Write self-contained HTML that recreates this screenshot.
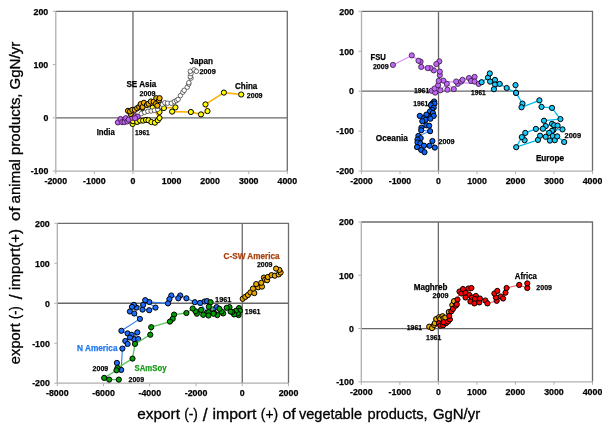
<!DOCTYPE html>
<html><head><meta charset="utf-8"><style>
html,body{margin:0;padding:0;background:#fff;width:602px;height:428px;overflow:hidden}
svg{display:block;will-change:transform}
.t{font-family:"Liberation Sans",sans-serif;font-weight:bold;font-size:9.2px;fill:#000;stroke:#000;stroke-width:0.25}
.l{font-family:"Liberation Sans",sans-serif;font-weight:bold;stroke-width:0.25}
.ti{font-family:"Liberation Sans",sans-serif;font-size:14.5px;fill:#000;stroke:#000;stroke-width:0.3;white-space:pre}
</style></head><body>
<svg width="602" height="428" viewBox="0 0 602 428">
<rect width="602" height="428" fill="#fff"/>
<line x1="55.8" y1="117.83" x2="287.3" y2="117.83" stroke="#686868" stroke-width="1.3"/>
<line x1="132.97" y1="11.3" x2="132.97" y2="171.1" stroke="#686868" stroke-width="1.3"/>
<polyline points="55.8,11.3 287.3,11.3 287.3,171.1" fill="none" stroke="#6c6c6c" stroke-width="1.3"/>
<polyline points="55.8,11.3 55.8,171.1 287.3,171.1" fill="none" stroke="#b0b0b0" stroke-width="1.3"/>
<line x1="52.8" y1="171.1" x2="55.8" y2="171.1" stroke="#b0b0b0" stroke-width="1"/>
<text x="48.3" y="174.39" text-anchor="end" class="t" textLength="17.67" lengthAdjust="spacingAndGlyphs">-100</text>
<line x1="52.8" y1="117.83" x2="55.8" y2="117.83" stroke="#b0b0b0" stroke-width="1"/>
<text x="48.3" y="121.13" text-anchor="end" class="t" textLength="4.91" lengthAdjust="spacingAndGlyphs">0</text>
<line x1="52.8" y1="64.57" x2="55.8" y2="64.57" stroke="#b0b0b0" stroke-width="1"/>
<text x="48.3" y="67.86" text-anchor="end" class="t" textLength="14.73" lengthAdjust="spacingAndGlyphs">100</text>
<line x1="52.8" y1="11.3" x2="55.8" y2="11.3" stroke="#b0b0b0" stroke-width="1"/>
<text x="48.3" y="14.59" text-anchor="end" class="t" textLength="14.73" lengthAdjust="spacingAndGlyphs">200</text>
<line x1="55.8" y1="171.1" x2="55.8" y2="174.1" stroke="#b0b0b0" stroke-width="1"/>
<text x="55.8" y="184.39" text-anchor="middle" class="t" textLength="22.58" lengthAdjust="spacingAndGlyphs">-2000</text>
<line x1="94.38" y1="171.1" x2="94.38" y2="174.1" stroke="#b0b0b0" stroke-width="1"/>
<text x="94.38" y="184.39" text-anchor="middle" class="t" textLength="22.58" lengthAdjust="spacingAndGlyphs">-1000</text>
<line x1="132.97" y1="171.1" x2="132.97" y2="174.1" stroke="#b0b0b0" stroke-width="1"/>
<text x="132.97" y="184.39" text-anchor="middle" class="t" textLength="4.91" lengthAdjust="spacingAndGlyphs">0</text>
<line x1="171.55" y1="171.1" x2="171.55" y2="174.1" stroke="#b0b0b0" stroke-width="1"/>
<text x="171.55" y="184.39" text-anchor="middle" class="t" textLength="19.64" lengthAdjust="spacingAndGlyphs">1000</text>
<line x1="210.13" y1="171.1" x2="210.13" y2="174.1" stroke="#b0b0b0" stroke-width="1"/>
<text x="210.13" y="184.39" text-anchor="middle" class="t" textLength="19.64" lengthAdjust="spacingAndGlyphs">2000</text>
<line x1="248.72" y1="171.1" x2="248.72" y2="174.1" stroke="#b0b0b0" stroke-width="1"/>
<text x="248.72" y="184.39" text-anchor="middle" class="t" textLength="19.64" lengthAdjust="spacingAndGlyphs">3000</text>
<line x1="287.3" y1="171.1" x2="287.3" y2="174.1" stroke="#b0b0b0" stroke-width="1"/>
<text x="287.3" y="184.39" text-anchor="middle" class="t" textLength="19.64" lengthAdjust="spacingAndGlyphs">4000</text>
<line x1="361.5" y1="91.2" x2="592.5" y2="91.2" stroke="#686868" stroke-width="1.3"/>
<line x1="438.5" y1="11.3" x2="438.5" y2="171.1" stroke="#686868" stroke-width="1.3"/>
<polyline points="361.5,11.3 592.5,11.3 592.5,171.1" fill="none" stroke="#6c6c6c" stroke-width="1.3"/>
<polyline points="361.5,11.3 361.5,171.1 592.5,171.1" fill="none" stroke="#b0b0b0" stroke-width="1.3"/>
<line x1="358.5" y1="171.1" x2="361.5" y2="171.1" stroke="#b0b0b0" stroke-width="1"/>
<text x="354" y="174.39" text-anchor="end" class="t" textLength="17.67" lengthAdjust="spacingAndGlyphs">-200</text>
<line x1="358.5" y1="131.15" x2="361.5" y2="131.15" stroke="#b0b0b0" stroke-width="1"/>
<text x="354" y="134.44" text-anchor="end" class="t" textLength="17.67" lengthAdjust="spacingAndGlyphs">-100</text>
<line x1="358.5" y1="91.2" x2="361.5" y2="91.2" stroke="#b0b0b0" stroke-width="1"/>
<text x="354" y="94.49" text-anchor="end" class="t" textLength="4.91" lengthAdjust="spacingAndGlyphs">0</text>
<line x1="358.5" y1="51.25" x2="361.5" y2="51.25" stroke="#b0b0b0" stroke-width="1"/>
<text x="354" y="54.54" text-anchor="end" class="t" textLength="14.73" lengthAdjust="spacingAndGlyphs">100</text>
<line x1="358.5" y1="11.3" x2="361.5" y2="11.3" stroke="#b0b0b0" stroke-width="1"/>
<text x="354" y="14.59" text-anchor="end" class="t" textLength="14.73" lengthAdjust="spacingAndGlyphs">200</text>
<line x1="361.5" y1="171.1" x2="361.5" y2="174.1" stroke="#b0b0b0" stroke-width="1"/>
<text x="361.5" y="184.39" text-anchor="middle" class="t" textLength="22.58" lengthAdjust="spacingAndGlyphs">-2000</text>
<line x1="400" y1="171.1" x2="400" y2="174.1" stroke="#b0b0b0" stroke-width="1"/>
<text x="400" y="184.39" text-anchor="middle" class="t" textLength="22.58" lengthAdjust="spacingAndGlyphs">-1000</text>
<line x1="438.5" y1="171.1" x2="438.5" y2="174.1" stroke="#b0b0b0" stroke-width="1"/>
<text x="438.5" y="184.39" text-anchor="middle" class="t" textLength="4.91" lengthAdjust="spacingAndGlyphs">0</text>
<line x1="477" y1="171.1" x2="477" y2="174.1" stroke="#b0b0b0" stroke-width="1"/>
<text x="477" y="184.39" text-anchor="middle" class="t" textLength="19.64" lengthAdjust="spacingAndGlyphs">1000</text>
<line x1="515.5" y1="171.1" x2="515.5" y2="174.1" stroke="#b0b0b0" stroke-width="1"/>
<text x="515.5" y="184.39" text-anchor="middle" class="t" textLength="19.64" lengthAdjust="spacingAndGlyphs">2000</text>
<line x1="554" y1="171.1" x2="554" y2="174.1" stroke="#b0b0b0" stroke-width="1"/>
<text x="554" y="184.39" text-anchor="middle" class="t" textLength="19.64" lengthAdjust="spacingAndGlyphs">3000</text>
<line x1="592.5" y1="171.1" x2="592.5" y2="174.1" stroke="#b0b0b0" stroke-width="1"/>
<text x="592.5" y="184.39" text-anchor="middle" class="t" textLength="19.64" lengthAdjust="spacingAndGlyphs">4000</text>
<line x1="57.3" y1="303.25" x2="288.5" y2="303.25" stroke="#686868" stroke-width="1.3"/>
<line x1="242.26" y1="223.3" x2="242.26" y2="383.2" stroke="#686868" stroke-width="1.3"/>
<polyline points="57.3,223.3 288.5,223.3 288.5,383.2" fill="none" stroke="#6c6c6c" stroke-width="1.3"/>
<polyline points="57.3,223.3 57.3,383.2 288.5,383.2" fill="none" stroke="#b0b0b0" stroke-width="1.3"/>
<line x1="54.3" y1="383.2" x2="57.3" y2="383.2" stroke="#b0b0b0" stroke-width="1"/>
<text x="49.8" y="386.49" text-anchor="end" class="t" textLength="17.67" lengthAdjust="spacingAndGlyphs">-200</text>
<line x1="54.3" y1="343.23" x2="57.3" y2="343.23" stroke="#b0b0b0" stroke-width="1"/>
<text x="49.8" y="346.52" text-anchor="end" class="t" textLength="17.67" lengthAdjust="spacingAndGlyphs">-100</text>
<line x1="54.3" y1="303.25" x2="57.3" y2="303.25" stroke="#b0b0b0" stroke-width="1"/>
<text x="49.8" y="306.54" text-anchor="end" class="t" textLength="4.91" lengthAdjust="spacingAndGlyphs">0</text>
<line x1="54.3" y1="263.27" x2="57.3" y2="263.27" stroke="#b0b0b0" stroke-width="1"/>
<text x="49.8" y="266.57" text-anchor="end" class="t" textLength="14.73" lengthAdjust="spacingAndGlyphs">100</text>
<line x1="54.3" y1="223.3" x2="57.3" y2="223.3" stroke="#b0b0b0" stroke-width="1"/>
<text x="49.8" y="226.59" text-anchor="end" class="t" textLength="14.73" lengthAdjust="spacingAndGlyphs">200</text>
<line x1="57.3" y1="383.2" x2="57.3" y2="386.2" stroke="#b0b0b0" stroke-width="1"/>
<text x="57.3" y="396.49" text-anchor="middle" class="t" textLength="22.58" lengthAdjust="spacingAndGlyphs">-8000</text>
<line x1="103.54" y1="383.2" x2="103.54" y2="386.2" stroke="#b0b0b0" stroke-width="1"/>
<text x="103.54" y="396.49" text-anchor="middle" class="t" textLength="22.58" lengthAdjust="spacingAndGlyphs">-6000</text>
<line x1="149.78" y1="383.2" x2="149.78" y2="386.2" stroke="#b0b0b0" stroke-width="1"/>
<text x="149.78" y="396.49" text-anchor="middle" class="t" textLength="22.58" lengthAdjust="spacingAndGlyphs">-4000</text>
<line x1="196.02" y1="383.2" x2="196.02" y2="386.2" stroke="#b0b0b0" stroke-width="1"/>
<text x="196.02" y="396.49" text-anchor="middle" class="t" textLength="22.58" lengthAdjust="spacingAndGlyphs">-2000</text>
<line x1="242.26" y1="383.2" x2="242.26" y2="386.2" stroke="#b0b0b0" stroke-width="1"/>
<text x="242.26" y="396.49" text-anchor="middle" class="t" textLength="4.91" lengthAdjust="spacingAndGlyphs">0</text>
<line x1="288.5" y1="383.2" x2="288.5" y2="386.2" stroke="#b0b0b0" stroke-width="1"/>
<text x="288.5" y="396.49" text-anchor="middle" class="t" textLength="19.64" lengthAdjust="spacingAndGlyphs">2000</text>
<line x1="361.3" y1="328.53" x2="592.5" y2="328.53" stroke="#686868" stroke-width="1.3"/>
<line x1="438.37" y1="222" x2="438.37" y2="381.8" stroke="#686868" stroke-width="1.3"/>
<polyline points="361.3,222 592.5,222 592.5,381.8" fill="none" stroke="#6c6c6c" stroke-width="1.3"/>
<polyline points="361.3,222 361.3,381.8 592.5,381.8" fill="none" stroke="#b0b0b0" stroke-width="1.3"/>
<line x1="358.3" y1="381.8" x2="361.3" y2="381.8" stroke="#b0b0b0" stroke-width="1"/>
<text x="353.8" y="385.09" text-anchor="end" class="t" textLength="17.67" lengthAdjust="spacingAndGlyphs">-100</text>
<line x1="358.3" y1="328.53" x2="361.3" y2="328.53" stroke="#b0b0b0" stroke-width="1"/>
<text x="353.8" y="331.83" text-anchor="end" class="t" textLength="4.91" lengthAdjust="spacingAndGlyphs">0</text>
<line x1="358.3" y1="275.27" x2="361.3" y2="275.27" stroke="#b0b0b0" stroke-width="1"/>
<text x="353.8" y="278.56" text-anchor="end" class="t" textLength="14.73" lengthAdjust="spacingAndGlyphs">100</text>
<line x1="358.3" y1="222" x2="361.3" y2="222" stroke="#b0b0b0" stroke-width="1"/>
<text x="353.8" y="225.29" text-anchor="end" class="t" textLength="14.73" lengthAdjust="spacingAndGlyphs">200</text>
<line x1="361.3" y1="381.8" x2="361.3" y2="384.8" stroke="#b0b0b0" stroke-width="1"/>
<text x="361.3" y="395.09" text-anchor="middle" class="t" textLength="22.58" lengthAdjust="spacingAndGlyphs">-2000</text>
<line x1="399.83" y1="381.8" x2="399.83" y2="384.8" stroke="#b0b0b0" stroke-width="1"/>
<text x="399.83" y="395.09" text-anchor="middle" class="t" textLength="22.58" lengthAdjust="spacingAndGlyphs">-1000</text>
<line x1="438.37" y1="381.8" x2="438.37" y2="384.8" stroke="#b0b0b0" stroke-width="1"/>
<text x="438.37" y="395.09" text-anchor="middle" class="t" textLength="4.91" lengthAdjust="spacingAndGlyphs">0</text>
<line x1="476.9" y1="381.8" x2="476.9" y2="384.8" stroke="#b0b0b0" stroke-width="1"/>
<text x="476.9" y="395.09" text-anchor="middle" class="t" textLength="19.64" lengthAdjust="spacingAndGlyphs">1000</text>
<line x1="515.43" y1="381.8" x2="515.43" y2="384.8" stroke="#b0b0b0" stroke-width="1"/>
<text x="515.43" y="395.09" text-anchor="middle" class="t" textLength="19.64" lengthAdjust="spacingAndGlyphs">2000</text>
<line x1="553.97" y1="381.8" x2="553.97" y2="384.8" stroke="#b0b0b0" stroke-width="1"/>
<text x="553.97" y="395.09" text-anchor="middle" class="t" textLength="19.64" lengthAdjust="spacingAndGlyphs">3000</text>
<line x1="592.5" y1="381.8" x2="592.5" y2="384.8" stroke="#b0b0b0" stroke-width="1"/>
<text x="592.5" y="395.09" text-anchor="middle" class="t" textLength="19.64" lengthAdjust="spacingAndGlyphs">4000</text>
<polyline points="132.6,123.9 133,121.2 137.2,121.9 140.1,120.6 143.1,120.6 146,120 148.5,120.3 151.4,122.1 154.9,122.7 157.8,120.3 159.5,118 152.7,107.7 159.5,112 163.9,108 175.4,107.4 172.1,111.6 190.9,112 201,114.4 207.5,111.1 205.5,104.4 223.9,92.6 241.2,94.5" fill="none" stroke="#ffb000" stroke-width="1.6" stroke-linejoin="round"/>
<circle cx="132.6" cy="123.9" r="2.6" fill="#ffff00" stroke="#000" stroke-width="1.0"/>
<circle cx="133" cy="121.2" r="2.6" fill="#ffff00" stroke="#000" stroke-width="1.0"/>
<circle cx="137.2" cy="121.9" r="2.6" fill="#ffff00" stroke="#000" stroke-width="1.0"/>
<circle cx="140.1" cy="120.6" r="2.6" fill="#ffff00" stroke="#000" stroke-width="1.0"/>
<circle cx="143.1" cy="120.6" r="2.6" fill="#ffff00" stroke="#000" stroke-width="1.0"/>
<circle cx="146" cy="120" r="2.6" fill="#ffff00" stroke="#000" stroke-width="1.0"/>
<circle cx="148.5" cy="120.3" r="2.6" fill="#ffff00" stroke="#000" stroke-width="1.0"/>
<circle cx="151.4" cy="122.1" r="2.6" fill="#ffff00" stroke="#000" stroke-width="1.0"/>
<circle cx="154.9" cy="122.7" r="2.6" fill="#ffff00" stroke="#000" stroke-width="1.0"/>
<circle cx="157.8" cy="120.3" r="2.6" fill="#ffff00" stroke="#000" stroke-width="1.0"/>
<circle cx="159.5" cy="118" r="2.6" fill="#ffff00" stroke="#000" stroke-width="1.0"/>
<circle cx="152.7" cy="107.7" r="2.6" fill="#ffff00" stroke="#000" stroke-width="1.0"/>
<circle cx="159.5" cy="112" r="2.6" fill="#ffff00" stroke="#000" stroke-width="1.0"/>
<circle cx="163.9" cy="108" r="2.6" fill="#ffff00" stroke="#000" stroke-width="1.0"/>
<circle cx="175.4" cy="107.4" r="2.6" fill="#ffff00" stroke="#000" stroke-width="1.0"/>
<circle cx="172.1" cy="111.6" r="2.6" fill="#ffff00" stroke="#000" stroke-width="1.0"/>
<circle cx="190.9" cy="112" r="2.6" fill="#ffff00" stroke="#000" stroke-width="1.0"/>
<circle cx="201" cy="114.4" r="2.6" fill="#ffff00" stroke="#000" stroke-width="1.0"/>
<circle cx="207.5" cy="111.1" r="2.6" fill="#ffff00" stroke="#000" stroke-width="1.0"/>
<circle cx="205.5" cy="104.4" r="2.6" fill="#ffff00" stroke="#000" stroke-width="1.0"/>
<circle cx="223.9" cy="92.6" r="2.6" fill="#ffff00" stroke="#000" stroke-width="1.0"/>
<circle cx="241.2" cy="94.5" r="2.6" fill="#ffff00" stroke="#000" stroke-width="1.0"/>
<circle cx="117.9" cy="122.4" r="2.6" fill="#c062f0" stroke="#3a1a4a" stroke-width="0.9"/>
<circle cx="120.5" cy="119" r="2.6" fill="#c062f0" stroke="#3a1a4a" stroke-width="0.9"/>
<circle cx="122.2" cy="122.1" r="2.6" fill="#c062f0" stroke="#3a1a4a" stroke-width="0.9"/>
<circle cx="124.5" cy="122.1" r="2.6" fill="#c062f0" stroke="#3a1a4a" stroke-width="0.9"/>
<circle cx="125.8" cy="118.2" r="2.6" fill="#c062f0" stroke="#3a1a4a" stroke-width="0.9"/>
<circle cx="127.4" cy="121.4" r="2.6" fill="#c062f0" stroke="#3a1a4a" stroke-width="0.9"/>
<circle cx="128.7" cy="119.6" r="2.6" fill="#c062f0" stroke="#3a1a4a" stroke-width="0.9"/>
<circle cx="132.3" cy="117.8" r="2.6" fill="#c062f0" stroke="#3a1a4a" stroke-width="0.9"/>
<circle cx="134.9" cy="116.2" r="2.6" fill="#c062f0" stroke="#3a1a4a" stroke-width="0.9"/>
<circle cx="137.5" cy="116.6" r="2.6" fill="#c062f0" stroke="#3a1a4a" stroke-width="0.9"/>
<circle cx="135.1" cy="118.2" r="2.6" fill="#c062f0" stroke="#3a1a4a" stroke-width="0.9"/>
<circle cx="141.3" cy="113.6" r="2.25" fill="#ffffff" stroke="#3a3a3a" stroke-width="0.75"/>
<circle cx="144.6" cy="112.3" r="2.25" fill="#ffffff" stroke="#3a3a3a" stroke-width="0.75"/>
<circle cx="147.8" cy="111.3" r="2.25" fill="#ffffff" stroke="#3a3a3a" stroke-width="0.75"/>
<circle cx="151.1" cy="111" r="2.25" fill="#ffffff" stroke="#3a3a3a" stroke-width="0.75"/>
<circle cx="154.4" cy="110.3" r="2.25" fill="#ffffff" stroke="#3a3a3a" stroke-width="0.75"/>
<circle cx="157.6" cy="109.3" r="2.25" fill="#ffffff" stroke="#3a3a3a" stroke-width="0.75"/>
<circle cx="160.3" cy="106" r="2.25" fill="#ffffff" stroke="#3a3a3a" stroke-width="0.75"/>
<circle cx="162.5" cy="104.4" r="2.25" fill="#ffffff" stroke="#3a3a3a" stroke-width="0.75"/>
<circle cx="164.8" cy="102.8" r="2.25" fill="#ffffff" stroke="#3a3a3a" stroke-width="0.75"/>
<circle cx="167.5" cy="103.2" r="2.25" fill="#ffffff" stroke="#3a3a3a" stroke-width="0.75"/>
<circle cx="171.3" cy="103.2" r="2.25" fill="#ffffff" stroke="#3a3a3a" stroke-width="0.75"/>
<circle cx="174.3" cy="101.7" r="2.25" fill="#ffffff" stroke="#3a3a3a" stroke-width="0.75"/>
<circle cx="176.5" cy="100.5" r="2.25" fill="#ffffff" stroke="#3a3a3a" stroke-width="0.75"/>
<circle cx="178.1" cy="99.4" r="2.25" fill="#ffffff" stroke="#3a3a3a" stroke-width="0.75"/>
<circle cx="180.4" cy="95.6" r="2.25" fill="#ffffff" stroke="#3a3a3a" stroke-width="0.75"/>
<circle cx="182.8" cy="92.2" r="2.25" fill="#ffffff" stroke="#3a3a3a" stroke-width="0.75"/>
<circle cx="184.2" cy="90.3" r="2.25" fill="#ffffff" stroke="#3a3a3a" stroke-width="0.75"/>
<circle cx="187.2" cy="87.2" r="2.25" fill="#ffffff" stroke="#3a3a3a" stroke-width="0.75"/>
<circle cx="188.8" cy="84" r="2.25" fill="#ffffff" stroke="#3a3a3a" stroke-width="0.75"/>
<circle cx="188.8" cy="82.7" r="2.25" fill="#ffffff" stroke="#3a3a3a" stroke-width="0.75"/>
<circle cx="191" cy="78.1" r="2.25" fill="#ffffff" stroke="#3a3a3a" stroke-width="0.75"/>
<circle cx="190.3" cy="76.6" r="2.25" fill="#ffffff" stroke="#3a3a3a" stroke-width="0.75"/>
<circle cx="191" cy="73.6" r="2.25" fill="#ffffff" stroke="#3a3a3a" stroke-width="0.75"/>
<circle cx="190.3" cy="71.3" r="2.25" fill="#ffffff" stroke="#3a3a3a" stroke-width="0.75"/>
<circle cx="194.1" cy="69.8" r="2.25" fill="#ffffff" stroke="#3a3a3a" stroke-width="0.75"/>
<circle cx="196.4" cy="71.3" r="2.25" fill="#ffffff" stroke="#3a3a3a" stroke-width="0.75"/>
<circle cx="130.7" cy="114" r="2.6" fill="#f0b000" stroke="#000" stroke-width="1.0"/>
<circle cx="128" cy="110.8" r="2.6" fill="#f0b000" stroke="#000" stroke-width="1.0"/>
<circle cx="130" cy="111.4" r="2.6" fill="#f0b000" stroke="#000" stroke-width="1.0"/>
<circle cx="132.3" cy="109.8" r="2.6" fill="#f0b000" stroke="#000" stroke-width="1.0"/>
<circle cx="134.9" cy="109.8" r="2.6" fill="#f0b000" stroke="#000" stroke-width="1.0"/>
<circle cx="137.2" cy="108.2" r="2.6" fill="#f0b000" stroke="#000" stroke-width="1.0"/>
<circle cx="139.2" cy="106.9" r="2.6" fill="#f0b000" stroke="#000" stroke-width="1.0"/>
<circle cx="140.7" cy="104.1" r="2.6" fill="#f0b000" stroke="#000" stroke-width="1.0"/>
<circle cx="142.1" cy="107.8" r="2.6" fill="#f0b000" stroke="#000" stroke-width="1.0"/>
<circle cx="142.6" cy="107" r="2.6" fill="#f0b000" stroke="#000" stroke-width="1.0"/>
<circle cx="143.9" cy="102.8" r="2.6" fill="#f0b000" stroke="#000" stroke-width="1.0"/>
<circle cx="146.9" cy="105" r="2.6" fill="#f0b000" stroke="#000" stroke-width="1.0"/>
<circle cx="148.5" cy="103.8" r="2.6" fill="#f0b000" stroke="#000" stroke-width="1.0"/>
<circle cx="150.8" cy="101.5" r="2.6" fill="#f0b000" stroke="#000" stroke-width="1.0"/>
<circle cx="153.7" cy="101.8" r="2.6" fill="#f0b000" stroke="#000" stroke-width="1.0"/>
<circle cx="155.7" cy="104.1" r="2.6" fill="#f0b000" stroke="#000" stroke-width="1.0"/>
<circle cx="157.3" cy="105.7" r="2.6" fill="#f0b000" stroke="#000" stroke-width="1.0"/>
<circle cx="156.3" cy="98.2" r="2.6" fill="#f0b000" stroke="#000" stroke-width="1.0"/>
<circle cx="159" cy="100.2" r="2.6" fill="#f0b000" stroke="#000" stroke-width="1.0"/>
<circle cx="159.6" cy="98.2" r="2.6" fill="#f0b000" stroke="#000" stroke-width="1.0"/>
<polyline points="431.7,90.8 435.2,92.6 434.6,88.5 438.1,85.2 440.4,90.3 446.8,83.8 447.4,89.7 443.3,80.6 453.8,89.1 457.9,83.8 456.2,81.5 461.2,81.6 462.6,79.8 469,78 471.1,81 474.6,76.9 474.6,81.6 478.7,83.9 438.7,80.9 439.8,75.1 439.8,71.6 439.3,61.4 436.3,64 433.8,70.4 430.5,68.1 427.6,68.1 421.2,66.9 420.6,61.7 418.5,60.7 411.8,55.4 392.9,64.9" fill="none" stroke="#d98cff" stroke-width="1.1" stroke-linejoin="round"/>
<circle cx="431.7" cy="90.8" r="2.6" fill="#c466f5" stroke="#2a1a3a" stroke-width="0.8"/>
<circle cx="435.2" cy="92.6" r="2.6" fill="#c466f5" stroke="#2a1a3a" stroke-width="0.8"/>
<circle cx="434.6" cy="88.5" r="2.6" fill="#c466f5" stroke="#2a1a3a" stroke-width="0.8"/>
<circle cx="438.1" cy="85.2" r="2.6" fill="#c466f5" stroke="#2a1a3a" stroke-width="0.8"/>
<circle cx="440.4" cy="90.3" r="2.6" fill="#c466f5" stroke="#2a1a3a" stroke-width="0.8"/>
<circle cx="446.8" cy="83.8" r="2.6" fill="#c466f5" stroke="#2a1a3a" stroke-width="0.8"/>
<circle cx="447.4" cy="89.7" r="2.6" fill="#c466f5" stroke="#2a1a3a" stroke-width="0.8"/>
<circle cx="443.3" cy="80.6" r="2.6" fill="#c466f5" stroke="#2a1a3a" stroke-width="0.8"/>
<circle cx="453.8" cy="89.1" r="2.6" fill="#c466f5" stroke="#2a1a3a" stroke-width="0.8"/>
<circle cx="457.9" cy="83.8" r="2.6" fill="#c466f5" stroke="#2a1a3a" stroke-width="0.8"/>
<circle cx="456.2" cy="81.5" r="2.6" fill="#c466f5" stroke="#2a1a3a" stroke-width="0.8"/>
<circle cx="461.2" cy="81.6" r="2.6" fill="#c466f5" stroke="#2a1a3a" stroke-width="0.8"/>
<circle cx="462.6" cy="79.8" r="2.6" fill="#c466f5" stroke="#2a1a3a" stroke-width="0.8"/>
<circle cx="469" cy="78" r="2.6" fill="#c466f5" stroke="#2a1a3a" stroke-width="0.8"/>
<circle cx="471.1" cy="81" r="2.6" fill="#c466f5" stroke="#2a1a3a" stroke-width="0.8"/>
<circle cx="474.6" cy="76.9" r="2.6" fill="#c466f5" stroke="#2a1a3a" stroke-width="0.8"/>
<circle cx="474.6" cy="81.6" r="2.6" fill="#c466f5" stroke="#2a1a3a" stroke-width="0.8"/>
<circle cx="478.7" cy="83.9" r="2.6" fill="#c466f5" stroke="#2a1a3a" stroke-width="0.8"/>
<circle cx="438.7" cy="80.9" r="2.6" fill="#c466f5" stroke="#2a1a3a" stroke-width="0.8"/>
<circle cx="439.8" cy="75.1" r="2.6" fill="#c466f5" stroke="#2a1a3a" stroke-width="0.8"/>
<circle cx="439.8" cy="71.6" r="2.6" fill="#c466f5" stroke="#2a1a3a" stroke-width="0.8"/>
<circle cx="439.3" cy="61.4" r="2.6" fill="#c466f5" stroke="#2a1a3a" stroke-width="0.8"/>
<circle cx="436.3" cy="64" r="2.6" fill="#c466f5" stroke="#2a1a3a" stroke-width="0.8"/>
<circle cx="433.8" cy="70.4" r="2.6" fill="#c466f5" stroke="#2a1a3a" stroke-width="0.8"/>
<circle cx="430.5" cy="68.1" r="2.6" fill="#c466f5" stroke="#2a1a3a" stroke-width="0.8"/>
<circle cx="427.6" cy="68.1" r="2.6" fill="#c466f5" stroke="#2a1a3a" stroke-width="0.8"/>
<circle cx="421.2" cy="66.9" r="2.6" fill="#c466f5" stroke="#2a1a3a" stroke-width="0.8"/>
<circle cx="420.6" cy="61.7" r="2.6" fill="#c466f5" stroke="#2a1a3a" stroke-width="0.8"/>
<circle cx="418.5" cy="60.7" r="2.6" fill="#c466f5" stroke="#2a1a3a" stroke-width="0.8"/>
<circle cx="411.8" cy="55.4" r="2.6" fill="#c466f5" stroke="#2a1a3a" stroke-width="0.8"/>
<circle cx="392.9" cy="64.9" r="2.6" fill="#c466f5" stroke="#2a1a3a" stroke-width="0.8"/>
<polyline points="434.1,101.5 432.1,103.6 434.5,103.6 430.9,105.2 433.7,107.7 432.1,109.7 430,111.4 432.9,113 433.7,115.9 428.8,116.7 426.4,114.6 419.8,115.9 423.9,118.3 425.5,119.9 430.4,118.7 422.3,121.2 426.4,125.3 429.2,125.7 421.4,127.7 421.2,130.3 430.1,131.2 418.4,135.9 420.7,138.2 417.5,139.6 417.5,142.4 420.3,143.4 417,147.1 421.2,149.9 424.5,152.2 424,145.7 429.6,145.7 434.8,147.6 432.4,141" fill="none" stroke="#2a78ee" stroke-width="1.0" stroke-linejoin="round"/>
<circle cx="434.1" cy="101.5" r="2.6" fill="#0a64fa" stroke="#000" stroke-width="1.0"/>
<circle cx="432.1" cy="103.6" r="2.6" fill="#0a64fa" stroke="#000" stroke-width="1.0"/>
<circle cx="434.5" cy="103.6" r="2.6" fill="#0a64fa" stroke="#000" stroke-width="1.0"/>
<circle cx="430.9" cy="105.2" r="2.6" fill="#0a64fa" stroke="#000" stroke-width="1.0"/>
<circle cx="433.7" cy="107.7" r="2.6" fill="#0a64fa" stroke="#000" stroke-width="1.0"/>
<circle cx="432.1" cy="109.7" r="2.6" fill="#0a64fa" stroke="#000" stroke-width="1.0"/>
<circle cx="430" cy="111.4" r="2.6" fill="#0a64fa" stroke="#000" stroke-width="1.0"/>
<circle cx="432.9" cy="113" r="2.6" fill="#0a64fa" stroke="#000" stroke-width="1.0"/>
<circle cx="433.7" cy="115.9" r="2.6" fill="#0a64fa" stroke="#000" stroke-width="1.0"/>
<circle cx="428.8" cy="116.7" r="2.6" fill="#0a64fa" stroke="#000" stroke-width="1.0"/>
<circle cx="426.4" cy="114.6" r="2.6" fill="#0a64fa" stroke="#000" stroke-width="1.0"/>
<circle cx="419.8" cy="115.9" r="2.6" fill="#0a64fa" stroke="#000" stroke-width="1.0"/>
<circle cx="423.9" cy="118.3" r="2.6" fill="#0a64fa" stroke="#000" stroke-width="1.0"/>
<circle cx="425.5" cy="119.9" r="2.6" fill="#0a64fa" stroke="#000" stroke-width="1.0"/>
<circle cx="430.4" cy="118.7" r="2.6" fill="#0a64fa" stroke="#000" stroke-width="1.0"/>
<circle cx="422.3" cy="121.2" r="2.6" fill="#0a64fa" stroke="#000" stroke-width="1.0"/>
<circle cx="426.4" cy="125.3" r="2.6" fill="#0a64fa" stroke="#000" stroke-width="1.0"/>
<circle cx="429.2" cy="125.7" r="2.6" fill="#0a64fa" stroke="#000" stroke-width="1.0"/>
<circle cx="421.4" cy="127.7" r="2.6" fill="#0a64fa" stroke="#000" stroke-width="1.0"/>
<circle cx="421.2" cy="130.3" r="2.6" fill="#0a64fa" stroke="#000" stroke-width="1.0"/>
<circle cx="430.1" cy="131.2" r="2.6" fill="#0a64fa" stroke="#000" stroke-width="1.0"/>
<circle cx="418.4" cy="135.9" r="2.6" fill="#0a64fa" stroke="#000" stroke-width="1.0"/>
<circle cx="420.7" cy="138.2" r="2.6" fill="#0a64fa" stroke="#000" stroke-width="1.0"/>
<circle cx="417.5" cy="139.6" r="2.6" fill="#0a64fa" stroke="#000" stroke-width="1.0"/>
<circle cx="417.5" cy="142.4" r="2.6" fill="#0a64fa" stroke="#000" stroke-width="1.0"/>
<circle cx="420.3" cy="143.4" r="2.6" fill="#0a64fa" stroke="#000" stroke-width="1.0"/>
<circle cx="417" cy="147.1" r="2.6" fill="#0a64fa" stroke="#000" stroke-width="1.0"/>
<circle cx="421.2" cy="149.9" r="2.6" fill="#0a64fa" stroke="#000" stroke-width="1.0"/>
<circle cx="424.5" cy="152.2" r="2.6" fill="#0a64fa" stroke="#000" stroke-width="1.0"/>
<circle cx="424" cy="145.7" r="2.6" fill="#0a64fa" stroke="#000" stroke-width="1.0"/>
<circle cx="429.6" cy="145.7" r="2.6" fill="#0a64fa" stroke="#000" stroke-width="1.0"/>
<circle cx="434.8" cy="147.6" r="2.6" fill="#0a64fa" stroke="#000" stroke-width="1.0"/>
<circle cx="432.4" cy="141" r="2.6" fill="#0a64fa" stroke="#000" stroke-width="1.0"/>
<polyline points="481.6,82.2 488,77.5 489.8,73.4 490.1,81.6 495,79.9 495,84.5 493.9,89.2 499.7,83.9 506.7,88 516.1,92.9 515.5,85.1 516.1,92.9 522.5,103.6 521.5,107.3 539.4,100.3 541.5,106.9 552,107.9 560.4,119.1 544,120.7 545.7,126.1 552,123.8 554.1,125.2 557.6,125.6 562.5,129.4 553.4,130.1 552,130.8 549.2,132.9 542.9,128.7 535.9,128.9 525.3,132.9 524.6,140.2 521.8,137.1 516.2,147.2 538,139.9 540.1,135.7 545.7,136.8 549.9,140.6 552.7,136 554.8,140.2 557.2,136.4 564.2,142" fill="none" stroke="#00bcf0" stroke-width="1.3" stroke-linejoin="round"/>
<circle cx="481.6" cy="82.2" r="2.6" fill="#18c8f8" stroke="#000" stroke-width="1.0"/>
<circle cx="488" cy="77.5" r="2.6" fill="#18c8f8" stroke="#000" stroke-width="1.0"/>
<circle cx="489.8" cy="73.4" r="2.6" fill="#18c8f8" stroke="#000" stroke-width="1.0"/>
<circle cx="490.1" cy="81.6" r="2.6" fill="#18c8f8" stroke="#000" stroke-width="1.0"/>
<circle cx="495" cy="79.9" r="2.6" fill="#18c8f8" stroke="#000" stroke-width="1.0"/>
<circle cx="495" cy="84.5" r="2.6" fill="#18c8f8" stroke="#000" stroke-width="1.0"/>
<circle cx="493.9" cy="89.2" r="2.6" fill="#18c8f8" stroke="#000" stroke-width="1.0"/>
<circle cx="499.7" cy="83.9" r="2.6" fill="#18c8f8" stroke="#000" stroke-width="1.0"/>
<circle cx="506.7" cy="88" r="2.6" fill="#18c8f8" stroke="#000" stroke-width="1.0"/>
<circle cx="516.1" cy="92.9" r="2.6" fill="#18c8f8" stroke="#000" stroke-width="1.0"/>
<circle cx="515.5" cy="85.1" r="2.6" fill="#18c8f8" stroke="#000" stroke-width="1.0"/>
<circle cx="516.1" cy="92.9" r="2.6" fill="#18c8f8" stroke="#000" stroke-width="1.0"/>
<circle cx="522.5" cy="103.6" r="2.6" fill="#18c8f8" stroke="#000" stroke-width="1.0"/>
<circle cx="521.5" cy="107.3" r="2.6" fill="#18c8f8" stroke="#000" stroke-width="1.0"/>
<circle cx="539.4" cy="100.3" r="2.6" fill="#18c8f8" stroke="#000" stroke-width="1.0"/>
<circle cx="541.5" cy="106.9" r="2.6" fill="#18c8f8" stroke="#000" stroke-width="1.0"/>
<circle cx="552" cy="107.9" r="2.6" fill="#18c8f8" stroke="#000" stroke-width="1.0"/>
<circle cx="560.4" cy="119.1" r="2.6" fill="#18c8f8" stroke="#000" stroke-width="1.0"/>
<circle cx="544" cy="120.7" r="2.6" fill="#18c8f8" stroke="#000" stroke-width="1.0"/>
<circle cx="545.7" cy="126.1" r="2.6" fill="#18c8f8" stroke="#000" stroke-width="1.0"/>
<circle cx="552" cy="123.8" r="2.6" fill="#18c8f8" stroke="#000" stroke-width="1.0"/>
<circle cx="554.1" cy="125.2" r="2.6" fill="#18c8f8" stroke="#000" stroke-width="1.0"/>
<circle cx="557.6" cy="125.6" r="2.6" fill="#18c8f8" stroke="#000" stroke-width="1.0"/>
<circle cx="562.5" cy="129.4" r="2.6" fill="#18c8f8" stroke="#000" stroke-width="1.0"/>
<circle cx="553.4" cy="130.1" r="2.6" fill="#18c8f8" stroke="#000" stroke-width="1.0"/>
<circle cx="552" cy="130.8" r="2.6" fill="#18c8f8" stroke="#000" stroke-width="1.0"/>
<circle cx="549.2" cy="132.9" r="2.6" fill="#18c8f8" stroke="#000" stroke-width="1.0"/>
<circle cx="542.9" cy="128.7" r="2.6" fill="#18c8f8" stroke="#000" stroke-width="1.0"/>
<circle cx="535.9" cy="128.9" r="2.6" fill="#18c8f8" stroke="#000" stroke-width="1.0"/>
<circle cx="525.3" cy="132.9" r="2.6" fill="#18c8f8" stroke="#000" stroke-width="1.0"/>
<circle cx="524.6" cy="140.2" r="2.6" fill="#18c8f8" stroke="#000" stroke-width="1.0"/>
<circle cx="521.8" cy="137.1" r="2.6" fill="#18c8f8" stroke="#000" stroke-width="1.0"/>
<circle cx="516.2" cy="147.2" r="2.6" fill="#18c8f8" stroke="#000" stroke-width="1.0"/>
<circle cx="538" cy="139.9" r="2.6" fill="#18c8f8" stroke="#000" stroke-width="1.0"/>
<circle cx="540.1" cy="135.7" r="2.6" fill="#18c8f8" stroke="#000" stroke-width="1.0"/>
<circle cx="545.7" cy="136.8" r="2.6" fill="#18c8f8" stroke="#000" stroke-width="1.0"/>
<circle cx="549.9" cy="140.6" r="2.6" fill="#18c8f8" stroke="#000" stroke-width="1.0"/>
<circle cx="552.7" cy="136" r="2.6" fill="#18c8f8" stroke="#000" stroke-width="1.0"/>
<circle cx="554.8" cy="140.2" r="2.6" fill="#18c8f8" stroke="#000" stroke-width="1.0"/>
<circle cx="557.2" cy="136.4" r="2.6" fill="#18c8f8" stroke="#000" stroke-width="1.0"/>
<circle cx="564.2" cy="142" r="2.6" fill="#18c8f8" stroke="#000" stroke-width="1.0"/>
<polyline points="216.6,307.1 213,309.5 207,312.5 200.1,302.9 204.6,301.5 207.1,301.1 194.8,302.2 186.4,298.3 180.2,295.5 178.3,298.3 171.3,295.5 169.4,299.2 168,303.4 149.3,302 145.2,300.2 155.5,307.6 149.2,310.2 142.5,309.6 143.2,304.9 136.5,307.6 133.9,304.9 131.9,306.9 129.9,311.5 134.3,313.5 139.9,318.9 121.4,330.8 127.6,333.4 131.7,334.8 137.3,332.4 134.1,339.2 138.2,339 130,337.5 125.3,341 127.6,343.9 122.4,348.6 121.2,369.9 116.9,362.9" fill="none" stroke="#2a78ee" stroke-width="1.1" stroke-linejoin="round"/>
<circle cx="216.6" cy="307.1" r="2.6" fill="#1f6dff" stroke="#000" stroke-width="1.0"/>
<circle cx="213" cy="309.5" r="2.6" fill="#1f6dff" stroke="#000" stroke-width="1.0"/>
<circle cx="207" cy="312.5" r="2.6" fill="#1f6dff" stroke="#000" stroke-width="1.0"/>
<circle cx="200.1" cy="302.9" r="2.6" fill="#1f6dff" stroke="#000" stroke-width="1.0"/>
<circle cx="204.6" cy="301.5" r="2.6" fill="#1f6dff" stroke="#000" stroke-width="1.0"/>
<circle cx="207.1" cy="301.1" r="2.6" fill="#1f6dff" stroke="#000" stroke-width="1.0"/>
<circle cx="194.8" cy="302.2" r="2.6" fill="#1f6dff" stroke="#000" stroke-width="1.0"/>
<circle cx="186.4" cy="298.3" r="2.6" fill="#1f6dff" stroke="#000" stroke-width="1.0"/>
<circle cx="180.2" cy="295.5" r="2.6" fill="#1f6dff" stroke="#000" stroke-width="1.0"/>
<circle cx="178.3" cy="298.3" r="2.6" fill="#1f6dff" stroke="#000" stroke-width="1.0"/>
<circle cx="171.3" cy="295.5" r="2.6" fill="#1f6dff" stroke="#000" stroke-width="1.0"/>
<circle cx="169.4" cy="299.2" r="2.6" fill="#1f6dff" stroke="#000" stroke-width="1.0"/>
<circle cx="168" cy="303.4" r="2.6" fill="#1f6dff" stroke="#000" stroke-width="1.0"/>
<circle cx="149.3" cy="302" r="2.6" fill="#1f6dff" stroke="#000" stroke-width="1.0"/>
<circle cx="145.2" cy="300.2" r="2.6" fill="#1f6dff" stroke="#000" stroke-width="1.0"/>
<circle cx="155.5" cy="307.6" r="2.6" fill="#1f6dff" stroke="#000" stroke-width="1.0"/>
<circle cx="149.2" cy="310.2" r="2.6" fill="#1f6dff" stroke="#000" stroke-width="1.0"/>
<circle cx="142.5" cy="309.6" r="2.6" fill="#1f6dff" stroke="#000" stroke-width="1.0"/>
<circle cx="143.2" cy="304.9" r="2.6" fill="#1f6dff" stroke="#000" stroke-width="1.0"/>
<circle cx="136.5" cy="307.6" r="2.6" fill="#1f6dff" stroke="#000" stroke-width="1.0"/>
<circle cx="133.9" cy="304.9" r="2.6" fill="#1f6dff" stroke="#000" stroke-width="1.0"/>
<circle cx="131.9" cy="306.9" r="2.6" fill="#1f6dff" stroke="#000" stroke-width="1.0"/>
<circle cx="129.9" cy="311.5" r="2.6" fill="#1f6dff" stroke="#000" stroke-width="1.0"/>
<circle cx="134.3" cy="313.5" r="2.6" fill="#1f6dff" stroke="#000" stroke-width="1.0"/>
<circle cx="139.9" cy="318.9" r="2.6" fill="#1f6dff" stroke="#000" stroke-width="1.0"/>
<circle cx="121.4" cy="330.8" r="2.6" fill="#1f6dff" stroke="#000" stroke-width="1.0"/>
<circle cx="127.6" cy="333.4" r="2.6" fill="#1f6dff" stroke="#000" stroke-width="1.0"/>
<circle cx="131.7" cy="334.8" r="2.6" fill="#1f6dff" stroke="#000" stroke-width="1.0"/>
<circle cx="137.3" cy="332.4" r="2.6" fill="#1f6dff" stroke="#000" stroke-width="1.0"/>
<circle cx="134.1" cy="339.2" r="2.6" fill="#1f6dff" stroke="#000" stroke-width="1.0"/>
<circle cx="138.2" cy="339" r="2.6" fill="#1f6dff" stroke="#000" stroke-width="1.0"/>
<circle cx="130" cy="337.5" r="2.6" fill="#1f6dff" stroke="#000" stroke-width="1.0"/>
<circle cx="125.3" cy="341" r="2.6" fill="#1f6dff" stroke="#000" stroke-width="1.0"/>
<circle cx="127.6" cy="343.9" r="2.6" fill="#1f6dff" stroke="#000" stroke-width="1.0"/>
<circle cx="122.4" cy="348.6" r="2.6" fill="#1f6dff" stroke="#000" stroke-width="1.0"/>
<circle cx="121.2" cy="369.9" r="2.6" fill="#1f6dff" stroke="#000" stroke-width="1.0"/>
<circle cx="116.9" cy="362.9" r="2.6" fill="#1f6dff" stroke="#000" stroke-width="1.0"/>
<polyline points="239,308.1 240,310.9 238.6,315.1 237.6,313.4 235.8,310.9 234.1,314.4 232.3,312 230.6,311.6 229.5,307.1 226.7,307.8 223.2,313.4 221.5,311.6 219.4,308.8 217.3,315.1 214.1,313 213.4,313.7 210.6,302.2 208.8,306.7 208.5,312.3 208.5,315.5 203.2,314.8 201.1,309.9 196.9,313.7 195.5,311.3 192.7,308.5 186.4,313 174.1,314.6 172.7,318.8 169.9,321.6 151.2,327.2 150.3,334.7 135,343.9 132.5,358.6 117.5,367.9 116.5,370.3 104.2,377.9 109.2,379.6 118.8,379.6" fill="none" stroke="#5cc45c" stroke-width="1.3" stroke-linejoin="round"/>
<circle cx="239" cy="308.1" r="2.6" fill="#00a000" stroke="#000" stroke-width="1.0"/>
<circle cx="240" cy="310.9" r="2.6" fill="#00a000" stroke="#000" stroke-width="1.0"/>
<circle cx="238.6" cy="315.1" r="2.6" fill="#00a000" stroke="#000" stroke-width="1.0"/>
<circle cx="237.6" cy="313.4" r="2.6" fill="#00a000" stroke="#000" stroke-width="1.0"/>
<circle cx="235.8" cy="310.9" r="2.6" fill="#00a000" stroke="#000" stroke-width="1.0"/>
<circle cx="234.1" cy="314.4" r="2.6" fill="#00a000" stroke="#000" stroke-width="1.0"/>
<circle cx="232.3" cy="312" r="2.6" fill="#00a000" stroke="#000" stroke-width="1.0"/>
<circle cx="230.6" cy="311.6" r="2.6" fill="#00a000" stroke="#000" stroke-width="1.0"/>
<circle cx="229.5" cy="307.1" r="2.6" fill="#00a000" stroke="#000" stroke-width="1.0"/>
<circle cx="226.7" cy="307.8" r="2.6" fill="#00a000" stroke="#000" stroke-width="1.0"/>
<circle cx="223.2" cy="313.4" r="2.6" fill="#00a000" stroke="#000" stroke-width="1.0"/>
<circle cx="221.5" cy="311.6" r="2.6" fill="#00a000" stroke="#000" stroke-width="1.0"/>
<circle cx="219.4" cy="308.8" r="2.6" fill="#00a000" stroke="#000" stroke-width="1.0"/>
<circle cx="217.3" cy="315.1" r="2.6" fill="#00a000" stroke="#000" stroke-width="1.0"/>
<circle cx="214.1" cy="313" r="2.6" fill="#00a000" stroke="#000" stroke-width="1.0"/>
<circle cx="213.4" cy="313.7" r="2.6" fill="#00a000" stroke="#000" stroke-width="1.0"/>
<circle cx="210.6" cy="302.2" r="2.6" fill="#00a000" stroke="#000" stroke-width="1.0"/>
<circle cx="208.8" cy="306.7" r="2.6" fill="#00a000" stroke="#000" stroke-width="1.0"/>
<circle cx="208.5" cy="312.3" r="2.6" fill="#00a000" stroke="#000" stroke-width="1.0"/>
<circle cx="208.5" cy="315.5" r="2.6" fill="#00a000" stroke="#000" stroke-width="1.0"/>
<circle cx="203.2" cy="314.8" r="2.6" fill="#00a000" stroke="#000" stroke-width="1.0"/>
<circle cx="201.1" cy="309.9" r="2.6" fill="#00a000" stroke="#000" stroke-width="1.0"/>
<circle cx="196.9" cy="313.7" r="2.6" fill="#00a000" stroke="#000" stroke-width="1.0"/>
<circle cx="195.5" cy="311.3" r="2.6" fill="#00a000" stroke="#000" stroke-width="1.0"/>
<circle cx="192.7" cy="308.5" r="2.6" fill="#00a000" stroke="#000" stroke-width="1.0"/>
<circle cx="186.4" cy="313" r="2.6" fill="#00a000" stroke="#000" stroke-width="1.0"/>
<circle cx="174.1" cy="314.6" r="2.6" fill="#00a000" stroke="#000" stroke-width="1.0"/>
<circle cx="172.7" cy="318.8" r="2.6" fill="#00a000" stroke="#000" stroke-width="1.0"/>
<circle cx="169.9" cy="321.6" r="2.6" fill="#00a000" stroke="#000" stroke-width="1.0"/>
<circle cx="151.2" cy="327.2" r="2.6" fill="#00a000" stroke="#000" stroke-width="1.0"/>
<circle cx="150.3" cy="334.7" r="2.6" fill="#00a000" stroke="#000" stroke-width="1.0"/>
<circle cx="135" cy="343.9" r="2.6" fill="#00a000" stroke="#000" stroke-width="1.0"/>
<circle cx="132.5" cy="358.6" r="2.6" fill="#00a000" stroke="#000" stroke-width="1.0"/>
<circle cx="117.5" cy="367.9" r="2.6" fill="#00a000" stroke="#000" stroke-width="1.0"/>
<circle cx="116.5" cy="370.3" r="2.6" fill="#00a000" stroke="#000" stroke-width="1.0"/>
<circle cx="104.2" cy="377.9" r="2.6" fill="#00a000" stroke="#000" stroke-width="1.0"/>
<circle cx="109.2" cy="379.6" r="2.6" fill="#00a000" stroke="#000" stroke-width="1.0"/>
<circle cx="118.8" cy="379.6" r="2.6" fill="#00a000" stroke="#000" stroke-width="1.0"/>
<circle cx="242.7" cy="298.8" r="2.6" fill="#e8a800" stroke="#000" stroke-width="1.0"/>
<circle cx="245.3" cy="296.9" r="2.6" fill="#e8a800" stroke="#000" stroke-width="1.0"/>
<circle cx="247.9" cy="295" r="2.6" fill="#e8a800" stroke="#000" stroke-width="1.0"/>
<circle cx="250.4" cy="292.4" r="2.6" fill="#e8a800" stroke="#000" stroke-width="1.0"/>
<circle cx="254.3" cy="293.1" r="2.6" fill="#e8a800" stroke="#000" stroke-width="1.0"/>
<circle cx="253" cy="288.6" r="2.6" fill="#e8a800" stroke="#000" stroke-width="1.0"/>
<circle cx="258.1" cy="287.3" r="2.6" fill="#e8a800" stroke="#000" stroke-width="1.0"/>
<circle cx="256.2" cy="284.1" r="2.6" fill="#e8a800" stroke="#000" stroke-width="1.0"/>
<circle cx="262" cy="286.6" r="2.6" fill="#e8a800" stroke="#000" stroke-width="1.0"/>
<circle cx="261.3" cy="282.8" r="2.6" fill="#e8a800" stroke="#000" stroke-width="1.0"/>
<circle cx="263.9" cy="277.6" r="2.6" fill="#e8a800" stroke="#000" stroke-width="1.0"/>
<circle cx="265.2" cy="279.6" r="2.6" fill="#e8a800" stroke="#000" stroke-width="1.0"/>
<circle cx="267.1" cy="280.2" r="2.6" fill="#e8a800" stroke="#000" stroke-width="1.0"/>
<circle cx="267.8" cy="277" r="2.6" fill="#e8a800" stroke="#000" stroke-width="1.0"/>
<circle cx="271.6" cy="275.1" r="2.6" fill="#e8a800" stroke="#000" stroke-width="1.0"/>
<circle cx="274.8" cy="275.7" r="2.6" fill="#e8a800" stroke="#000" stroke-width="1.0"/>
<circle cx="278.7" cy="274.4" r="2.6" fill="#e8a800" stroke="#000" stroke-width="1.0"/>
<circle cx="280.6" cy="272.5" r="2.6" fill="#e8a800" stroke="#000" stroke-width="1.0"/>
<circle cx="279.3" cy="269.9" r="2.6" fill="#e8a800" stroke="#000" stroke-width="1.0"/>
<circle cx="276.1" cy="268.6" r="2.6" fill="#e8a800" stroke="#000" stroke-width="1.0"/>
<circle cx="429.2" cy="326.7" r="2.6" fill="#e8a800" stroke="#000" stroke-width="1.0"/>
<circle cx="432" cy="328.1" r="2.6" fill="#e8a800" stroke="#000" stroke-width="1.0"/>
<circle cx="434.1" cy="325" r="2.6" fill="#e8a800" stroke="#000" stroke-width="1.0"/>
<circle cx="434.8" cy="323.2" r="2.6" fill="#e8a800" stroke="#000" stroke-width="1.0"/>
<circle cx="436.2" cy="319" r="2.6" fill="#e8a800" stroke="#000" stroke-width="1.0"/>
<circle cx="439" cy="317.3" r="2.6" fill="#e8a800" stroke="#000" stroke-width="1.0"/>
<circle cx="440.1" cy="319" r="2.6" fill="#e8a800" stroke="#000" stroke-width="1.0"/>
<circle cx="442.5" cy="316.2" r="2.6" fill="#e8a800" stroke="#000" stroke-width="1.0"/>
<circle cx="443.6" cy="318.3" r="2.6" fill="#e8a800" stroke="#000" stroke-width="1.0"/>
<circle cx="445.3" cy="317.6" r="2.6" fill="#e8a800" stroke="#000" stroke-width="1.0"/>
<circle cx="448.8" cy="312" r="2.6" fill="#e8a800" stroke="#000" stroke-width="1.0"/>
<circle cx="452.3" cy="305" r="2.6" fill="#e8a800" stroke="#000" stroke-width="1.0"/>
<circle cx="454" cy="301.1" r="2.6" fill="#e8a800" stroke="#000" stroke-width="1.0"/>
<polyline points="439,323.2 440.4,325.7 443.2,325.3 446,323.2 443.6,322.2 448.1,321.5 449.9,319.4 449.2,315.9 451.3,311.3 453,308.9 455.8,305.7 456.8,304.3 457.5,299.5 459.5,291.5 461.5,293.5 463,289 465.5,293 468.4,288.5 471.4,288 469.4,295 465.5,297.5 471.9,297.5 475.9,296 474.9,299 470.4,301.5 474.4,303.4 479.4,302.4 479.9,298.5 485.4,300.5 487.4,303.4 496.7,300.8 495.9,297.5 494.4,293.5 497.3,290.9 500.8,296.5 503.1,298.5 505.5,292.7 506.6,288 519.2,284.9 527.3,288 527.3,283.4" fill="none" stroke="#ff5555" stroke-width="1.0" stroke-linejoin="round"/>
<circle cx="439" cy="323.2" r="2.6" fill="#ff0000" stroke="#000" stroke-width="1.0"/>
<circle cx="440.4" cy="325.7" r="2.6" fill="#ff0000" stroke="#000" stroke-width="1.0"/>
<circle cx="443.2" cy="325.3" r="2.6" fill="#ff0000" stroke="#000" stroke-width="1.0"/>
<circle cx="446" cy="323.2" r="2.6" fill="#ff0000" stroke="#000" stroke-width="1.0"/>
<circle cx="443.6" cy="322.2" r="2.6" fill="#ff0000" stroke="#000" stroke-width="1.0"/>
<circle cx="448.1" cy="321.5" r="2.6" fill="#ff0000" stroke="#000" stroke-width="1.0"/>
<circle cx="449.9" cy="319.4" r="2.6" fill="#ff0000" stroke="#000" stroke-width="1.0"/>
<circle cx="449.2" cy="315.9" r="2.6" fill="#ff0000" stroke="#000" stroke-width="1.0"/>
<circle cx="451.3" cy="311.3" r="2.6" fill="#ff0000" stroke="#000" stroke-width="1.0"/>
<circle cx="453" cy="308.9" r="2.6" fill="#ff0000" stroke="#000" stroke-width="1.0"/>
<circle cx="455.8" cy="305.7" r="2.6" fill="#ff0000" stroke="#000" stroke-width="1.0"/>
<circle cx="456.8" cy="304.3" r="2.6" fill="#ff0000" stroke="#000" stroke-width="1.0"/>
<circle cx="457.5" cy="299.5" r="2.6" fill="#ff0000" stroke="#000" stroke-width="1.0"/>
<circle cx="459.5" cy="291.5" r="2.6" fill="#ff0000" stroke="#000" stroke-width="1.0"/>
<circle cx="461.5" cy="293.5" r="2.6" fill="#ff0000" stroke="#000" stroke-width="1.0"/>
<circle cx="463" cy="289" r="2.6" fill="#ff0000" stroke="#000" stroke-width="1.0"/>
<circle cx="465.5" cy="293" r="2.6" fill="#ff0000" stroke="#000" stroke-width="1.0"/>
<circle cx="468.4" cy="288.5" r="2.6" fill="#ff0000" stroke="#000" stroke-width="1.0"/>
<circle cx="471.4" cy="288" r="2.6" fill="#ff0000" stroke="#000" stroke-width="1.0"/>
<circle cx="469.4" cy="295" r="2.6" fill="#ff0000" stroke="#000" stroke-width="1.0"/>
<circle cx="465.5" cy="297.5" r="2.6" fill="#ff0000" stroke="#000" stroke-width="1.0"/>
<circle cx="471.9" cy="297.5" r="2.6" fill="#ff0000" stroke="#000" stroke-width="1.0"/>
<circle cx="475.9" cy="296" r="2.6" fill="#ff0000" stroke="#000" stroke-width="1.0"/>
<circle cx="474.9" cy="299" r="2.6" fill="#ff0000" stroke="#000" stroke-width="1.0"/>
<circle cx="470.4" cy="301.5" r="2.6" fill="#ff0000" stroke="#000" stroke-width="1.0"/>
<circle cx="474.4" cy="303.4" r="2.6" fill="#ff0000" stroke="#000" stroke-width="1.0"/>
<circle cx="479.4" cy="302.4" r="2.6" fill="#ff0000" stroke="#000" stroke-width="1.0"/>
<circle cx="479.9" cy="298.5" r="2.6" fill="#ff0000" stroke="#000" stroke-width="1.0"/>
<circle cx="485.4" cy="300.5" r="2.6" fill="#ff0000" stroke="#000" stroke-width="1.0"/>
<circle cx="487.4" cy="303.4" r="2.6" fill="#ff0000" stroke="#000" stroke-width="1.0"/>
<circle cx="496.7" cy="300.8" r="2.6" fill="#ff0000" stroke="#000" stroke-width="1.0"/>
<circle cx="495.9" cy="297.5" r="2.6" fill="#ff0000" stroke="#000" stroke-width="1.0"/>
<circle cx="494.4" cy="293.5" r="2.6" fill="#ff0000" stroke="#000" stroke-width="1.0"/>
<circle cx="497.3" cy="290.9" r="2.6" fill="#ff0000" stroke="#000" stroke-width="1.0"/>
<circle cx="500.8" cy="296.5" r="2.6" fill="#ff0000" stroke="#000" stroke-width="1.0"/>
<circle cx="503.1" cy="298.5" r="2.6" fill="#ff0000" stroke="#000" stroke-width="1.0"/>
<circle cx="505.5" cy="292.7" r="2.6" fill="#ff0000" stroke="#000" stroke-width="1.0"/>
<circle cx="506.6" cy="288" r="2.6" fill="#ff0000" stroke="#000" stroke-width="1.0"/>
<circle cx="519.2" cy="284.9" r="2.6" fill="#ff0000" stroke="#000" stroke-width="1.0"/>
<circle cx="527.3" cy="288" r="2.6" fill="#ff0000" stroke="#000" stroke-width="1.0"/>
<circle cx="527.3" cy="283.4" r="2.6" fill="#ff0000" stroke="#000" stroke-width="1.0"/>
<text x="189.4" y="64.11" class="l" style="font-size:8.7px" fill="#000" stroke="#000" textLength="23.6" lengthAdjust="spacingAndGlyphs">Japan</text>
<text x="199.5" y="73.66" class="l" style="font-size:8.0px" fill="#000" stroke="#000" textLength="16.2" lengthAdjust="spacingAndGlyphs">2009</text>
<text x="235" y="88.91" class="l" style="font-size:8.7px" fill="#000" stroke="#000" textLength="22.3" lengthAdjust="spacingAndGlyphs">China</text>
<text x="246.8" y="98.46" class="l" style="font-size:8.0px" fill="#000" stroke="#000" textLength="15.7" lengthAdjust="spacingAndGlyphs">2009</text>
<text x="126.4" y="86.81" class="l" style="font-size:8.7px" fill="#000" stroke="#000" textLength="30" lengthAdjust="spacingAndGlyphs">SE Asia</text>
<text x="139.5" y="96.46" class="l" style="font-size:8.0px" fill="#000" stroke="#000" textLength="15.9" lengthAdjust="spacingAndGlyphs">2009</text>
<text x="96.7" y="135.11" class="l" style="font-size:8.7px" fill="#000" stroke="#000" textLength="18.1" lengthAdjust="spacingAndGlyphs">India</text>
<text x="135.1" y="135.46" class="l" style="font-size:8.0px" fill="#000" stroke="#000" textLength="14.6" lengthAdjust="spacingAndGlyphs">1961</text>
<text x="370.5" y="59.61" class="l" style="font-size:8.7px" fill="#000" stroke="#000" textLength="15.4" lengthAdjust="spacingAndGlyphs">FSU</text>
<text x="372.9" y="68.76" class="l" style="font-size:8.0px" fill="#000" stroke="#000" textLength="15.8" lengthAdjust="spacingAndGlyphs">2009</text>
<text x="413.9" y="93.26" class="l" style="font-size:8.0px" fill="#000" stroke="#000" textLength="15.4" lengthAdjust="spacingAndGlyphs">1961</text>
<text x="471.1" y="94.96" class="l" style="font-size:8.0px" fill="#000" stroke="#000" textLength="14.6" lengthAdjust="spacingAndGlyphs">1961</text>
<text x="413.3" y="106.06" class="l" style="font-size:8.0px" fill="#000" stroke="#000" textLength="15.1" lengthAdjust="spacingAndGlyphs">1961</text>
<text x="375.8" y="140.81" class="l" style="font-size:8.7px" fill="#000" stroke="#000" textLength="32" lengthAdjust="spacingAndGlyphs">Oceania</text>
<text x="438.5" y="144.16" class="l" style="font-size:8.0px" fill="#000" stroke="#000" textLength="16" lengthAdjust="spacingAndGlyphs">2009</text>
<text x="564.5" y="138.46" class="l" style="font-size:8.0px" fill="#000" stroke="#000" textLength="16.5" lengthAdjust="spacingAndGlyphs">2009</text>
<text x="535.9" y="160.71" class="l" style="font-size:8.7px" fill="#000" stroke="#000" textLength="28.2" lengthAdjust="spacingAndGlyphs">Europe</text>
<text x="256.9" y="267.16" class="l" style="font-size:8.0px" fill="#000" stroke="#000" textLength="15.5" lengthAdjust="spacingAndGlyphs">2009</text>
<text x="215.1" y="301.56" class="l" style="font-size:8.0px" fill="#000" stroke="#000" textLength="16.3" lengthAdjust="spacingAndGlyphs">1961</text>
<text x="244.8" y="314.06" class="l" style="font-size:8.0px" fill="#000" stroke="#000" textLength="15.7" lengthAdjust="spacingAndGlyphs">1961</text>
<text x="92.6" y="370.76" class="l" style="font-size:8.0px" fill="#000" stroke="#000" textLength="15.6" lengthAdjust="spacingAndGlyphs">2009</text>
<text x="128.5" y="381.66" class="l" style="font-size:8.0px" fill="#000" stroke="#000" textLength="15.5" lengthAdjust="spacingAndGlyphs">2009</text>
<text x="413.7" y="289.51" class="l" style="font-size:8.7px" fill="#000" stroke="#000" textLength="33.7" lengthAdjust="spacingAndGlyphs">Maghreb</text>
<text x="432.6" y="297.76" class="l" style="font-size:8.0px" fill="#000" stroke="#000" textLength="16" lengthAdjust="spacingAndGlyphs">2009</text>
<text x="406.8" y="330.26" class="l" style="font-size:8.0px" fill="#000" stroke="#000" textLength="15.2" lengthAdjust="spacingAndGlyphs">1961</text>
<text x="426.1" y="339.86" class="l" style="font-size:8.0px" fill="#000" stroke="#000" textLength="15.2" lengthAdjust="spacingAndGlyphs">1961</text>
<text x="514.8" y="278.71" class="l" style="font-size:8.7px" fill="#000" stroke="#000" textLength="22.1" lengthAdjust="spacingAndGlyphs">Africa</text>
<text x="536.3" y="289.76" class="l" style="font-size:8.0px" fill="#000" stroke="#000" textLength="15.7" lengthAdjust="spacingAndGlyphs">2009</text>
<text x="223.6" y="259.21" class="l" style="font-size:8.7px" fill="#a8420f" stroke="#a8420f" textLength="55.9" lengthAdjust="spacingAndGlyphs">C-SW America</text>
<text x="77" y="351.11" class="l" style="font-size:8.7px" fill="#1f7af0" stroke="#1f7af0" textLength="40.5" lengthAdjust="spacingAndGlyphs">N America</text>
<text x="134.5" y="371.11" class="l" style="font-size:8.7px" fill="#1a9a1a" stroke="#1a9a1a" textLength="32" lengthAdjust="spacingAndGlyphs">SAmSoy</text>
<text x="137.3" y="419" class="ti" textLength="42.6" lengthAdjust="spacingAndGlyphs">export</text>
<text x="184.2" y="419" class="ti" textLength="13.7" lengthAdjust="spacingAndGlyphs">(-)</text>
<text x="205.1" y="421" class="ti" text-anchor="middle" style="font-size:17.5px">/</text>
<text x="212.5" y="419" class="ti" textLength="44" lengthAdjust="spacingAndGlyphs">import</text>
<text x="260.8" y="419" class="ti" textLength="17.2" lengthAdjust="spacingAndGlyphs">(+)</text>
<text x="282.4" y="419" class="ti" textLength="13.3" lengthAdjust="spacingAndGlyphs">of</text>
<text x="299" y="419" class="ti" textLength="63" lengthAdjust="spacingAndGlyphs">vegetable</text>
<text x="367.5" y="419" class="ti" textLength="60.2" lengthAdjust="spacingAndGlyphs">products,</text>
<text x="432.9" y="419" class="ti" textLength="47.3" lengthAdjust="spacingAndGlyphs">GgN/yr</text>
<text transform="translate(20.2,364.2) rotate(-90)" x="0" y="0" class="ti" textLength="41" lengthAdjust="spacingAndGlyphs">export</text>
<text transform="translate(20.2,319) rotate(-90)" x="0" y="0" class="ti" textLength="12.6" lengthAdjust="spacingAndGlyphs">(-)</text>
<text transform="translate(22.2,296.85) rotate(-90)" x="0" y="0" class="ti" text-anchor="middle" style="font-size:17.5px">/</text>
<text transform="translate(20.2,290) rotate(-90)" x="0" y="0" class="ti" textLength="61.1" lengthAdjust="spacingAndGlyphs">import(+)</text>
<text transform="translate(20.2,221) rotate(-90)" x="0" y="0" class="ti" textLength="14.1" lengthAdjust="spacingAndGlyphs">of</text>
<text transform="translate(20.2,203.4) rotate(-90)" x="0" y="0" class="ti" textLength="44.3" lengthAdjust="spacingAndGlyphs">animal</text>
<text transform="translate(20.2,154.9) rotate(-90)" x="0" y="0" class="ti" textLength="61.4" lengthAdjust="spacingAndGlyphs">products,</text>
<text transform="translate(20.2,89.5) rotate(-90)" x="0" y="0" class="ti" textLength="47.7" lengthAdjust="spacingAndGlyphs">GgN/yr</text>
</svg></body></html>
